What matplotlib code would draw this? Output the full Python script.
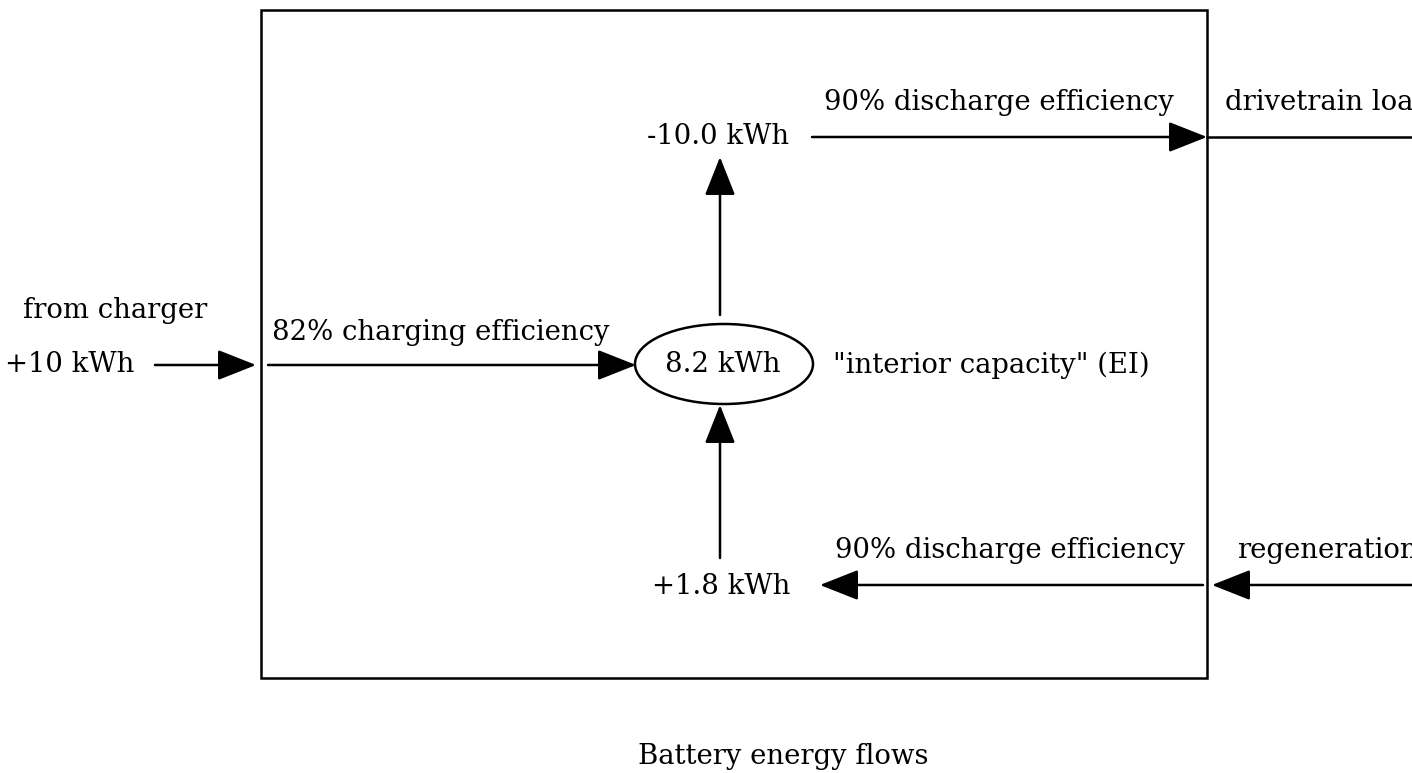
import matplotlib
matplotlib.use("Agg")
import matplotlib.pyplot as plt
from matplotlib.patches import Rectangle, Ellipse

# ---- data ----
charger_in_kwh = 10
charging_eff_pct = 82
interior_kwh = 8.2
discharge_out_kwh = -10.0
regen_in_kwh = 1.8
discharge_eff_pct = 90
title = "Battery energy flows"

FONT = "DejaVu Serif"
FS = 19.8

fig = plt.figure(figsize=(14.12, 7.73), dpi=100)
ax = fig.add_axes([0, 0, 1, 1])
ax.set_xlim(0, 1412)
ax.set_ylim(773, 0)
ax.axis("off")

LW = 1.8


def arrow(x0, y0, x1, y1):
    ax.annotate("", xy=(x1, y1), xytext=(x0, y0),
                arrowprops=dict(arrowstyle="-|>,head_length=24,head_width=9.5",
                                mutation_scale=1, lw=LW, color="black",
                                shrinkA=0, shrinkB=0))


def txt(x, y, s, ha="center"):
    ax.text(x, y, s, ha=ha, va="center", fontsize=FS, family=FONT)


# box
ax.add_patch(Rectangle((261, 10), 946, 668, fill=False, lw=LW, ec="black"))
# ellipse
ax.add_patch(Ellipse((724, 364), 178, 80, fill=False, lw=LW, ec="black"))

# left input
txt(115, 311, "from charger")
txt(70, 365, f"+{charger_in_kwh} kWh")
arrow(155, 365, 256, 365)
arrow(268, 365, 636, 365)
txt(441, 333, f"{charging_eff_pct}% charging efficiency")

txt(723, 365, f"{interior_kwh} kWh")
txt(833, 365, '"interior capacity" (EI)', ha="left")

# top discharge
arrow(720, 315, 720, 157)
txt(718, 137, f"{discharge_out_kwh:.1f} kWh")
arrow(812, 137, 1207, 137)
txt(999, 102, f"{discharge_eff_pct}% discharge efficiency")
ax.plot([1207, 1412], [137, 137], color="black", lw=LW)
txt(1225, 102, "drivetrain load", ha="left")

# bottom regeneration
arrow(720, 558, 720, 405)
txt(721, 586, f"+{regen_in_kwh} kWh")
arrow(1203, 585, 820, 585)
txt(1010, 550, f"{discharge_eff_pct}% discharge efficiency")
arrow(1412, 585, 1212, 585)
txt(1237, 550, "regeneration", ha="left")

txt(783, 757, title)

fig.savefig("out.png", dpi=100)
